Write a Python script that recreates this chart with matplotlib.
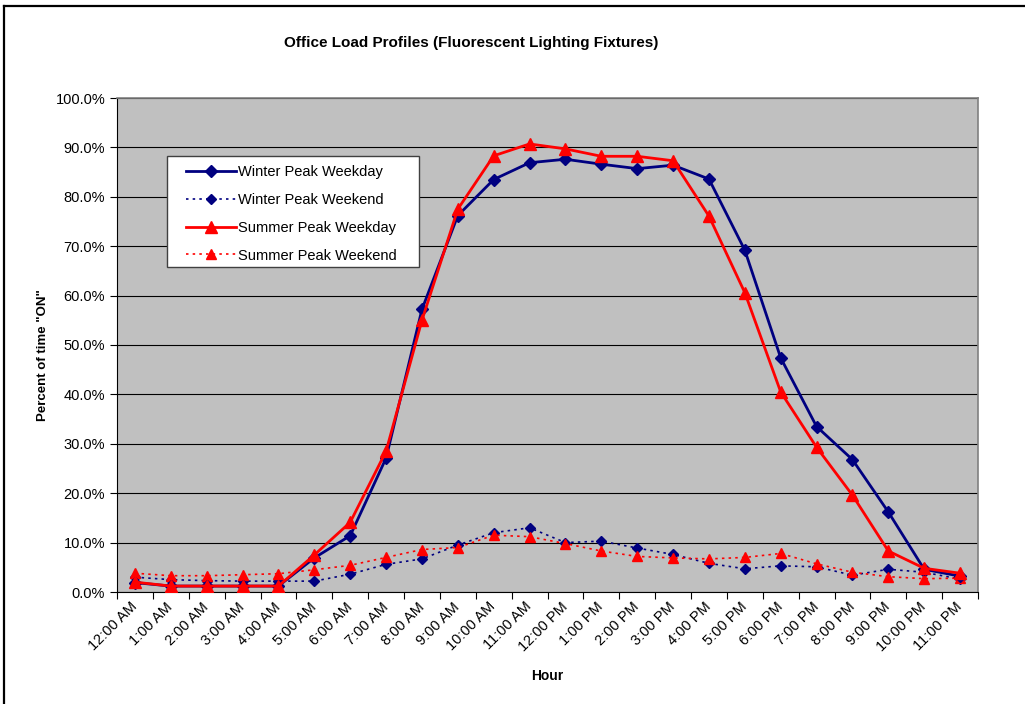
import numpy as np
import matplotlib
matplotlib.use("Agg")
import matplotlib.pyplot as plt
from matplotlib.lines import Line2D
from matplotlib.patches import Rectangle

plt.rcParams['font.family'] = ['Liberation Sans', 'DejaVu Sans']

hours = ["12:00 AM", "1:00 AM", "2:00 AM", "3:00 AM", "4:00 AM", "5:00 AM",
         "6:00 AM", "7:00 AM", "8:00 AM", "9:00 AM", "10:00 AM", "11:00 AM",
         "12:00 PM", "1:00 PM", "2:00 PM", "3:00 PM", "4:00 PM", "5:00 PM",
         "6:00 PM", "7:00 PM", "8:00 PM", "9:00 PM", "10:00 PM", "11:00 PM"]

# percent of time ON
winter_weekday = [1.9, 1.2, 1.2, 1.2, 1.2, 6.9, 11.4, 27.1, 57.2, 76.2, 83.5, 86.9,
                  87.6, 86.6, 85.7, 86.4, 83.6, 69.2, 47.4, 33.5, 26.8, 16.2, 4.6, 3.2]
winter_weekend = [3.0, 2.5, 2.3, 2.2, 2.2, 2.2, 3.6, 5.6, 6.7, 9.5, 12.0, 13.0,
                  10.0, 10.3, 8.9, 7.6, 5.8, 4.7, 5.3, 5.1, 3.4, 4.6, 4.0, 2.6]
summer_weekday = [2.0, 1.2, 1.2, 1.2, 1.2, 7.5, 14.1, 28.5, 55.0, 77.5, 88.3, 90.7,
                  89.7, 88.2, 88.2, 87.3, 76.1, 60.6, 40.5, 29.3, 19.6, 8.3, 4.8, 3.8]
summer_weekend = [3.8, 3.3, 3.3, 3.5, 3.7, 4.5, 5.4, 7.0, 8.6, 9.0, 11.5, 11.2,
                  9.8, 8.3, 7.2, 6.9, 6.7, 7.0, 7.8, 5.7, 4.0, 3.1, 2.7, 2.8]

navy = "#000080"
red = "#FF0000"

W, H = 1025, 704
fig = plt.figure(figsize=(W/100, H/100), dpi=100)
# plot area spans x 117..978, y 98..592 px
ax = fig.add_axes([117/W, 1 - 592/H, 861/W, 494/H])
ax.set_facecolor("#C0C0C0")

x = np.arange(len(hours)) + 0.5  # points sit in the middle of each category

ax.plot(x, winter_weekday, color=navy, lw=2.0, marker="D", ms=6.5, mec=navy,
        label="Winter Peak Weekday", zorder=4)
ax.plot(x, winter_weekend, color=navy, lw=1.2, ls=(0, (1.5, 2.5)), marker="D", ms=5,
        mec=navy, label="Winter Peak Weekend", zorder=3)
ax.plot(x, summer_weekday, color=red, lw=2.0, marker="^", ms=9, mec=red,
        label="Summer Peak Weekday", zorder=5)
ax.plot(x, summer_weekend, color=red, lw=1.2, ls=(0, (1.5, 2.5)), marker="^", ms=7,
        mec=red, label="Summer Peak Weekend", zorder=3)

ax.set_xlim(0, 24)
ax.set_ylim(0, 100)
ax.set_yticks(np.arange(0, 101, 10))
ax.set_yticklabels([f"{v:.1f}%" for v in np.arange(0, 101, 10)], fontsize=10.5)
ax.yaxis.grid(True, color="black", lw=0.8)
ax.set_axisbelow(True)

# ticks at category borders, labels at category centres
ax.set_xticks(np.arange(0, 25))
ax.set_xticklabels([])
ax.set_xticks(x, minor=True)
ax.set_xticklabels(hours, minor=True, rotation=45, ha="right", va="center",
                   rotation_mode="anchor", fontsize=10.5)
ax.tick_params(axis="x", which="minor", length=0, pad=9)
ax.tick_params(axis="both", which="major", direction="out", length=5, width=0.8, color="black")

for s in ["top", "right"]:
    ax.spines[s].set_color("#808080")
    ax.spines[s].set_linewidth(1.2)
ax.spines["left"].set_color("black")
ax.spines["bottom"].set_color("black")

ax.set_xlabel("Hour", fontsize=10, fontweight="bold")
ax.xaxis.set_label_coords(0.5, (592 - 669)/494)
ax.set_ylabel('Percent of time "ON"', fontsize=9.5, fontweight="bold")
ax.yaxis.set_label_coords((49 - 117)/861, (592 - 355)/494)

fig.text(471/W, 1 - 43/H, "Office Load Profiles (Fluorescent Lighting Fixtures)",
         ha="center", va="center", fontsize=11, fontweight="bold")

# legend: white box drawn separately, entries placed inside it
def px(xp, yp):
    return ((xp - 117)/861, (592 - yp)/494)

ax.add_patch(Rectangle(px(167, 267), 252/861, 111/494, transform=ax.transAxes,
                       facecolor="white", edgecolor="#404040", lw=1.0, zorder=6))
leg = ax.legend(loc="upper left", bbox_to_anchor=px(186, 165), frameon=False,
                fontsize=10.5, handlelength=3.4, borderpad=0, borderaxespad=0,
                labelspacing=0.95, handletextpad=0.2)
leg.set_zorder(7)

# outer chart frame (cut off at right and bottom)
fig.add_artist(Line2D([4/W, 4/W], [0, 1 - 6/H], transform=fig.transFigure,
                      color="black", lw=1.6))
fig.add_artist(Line2D([4/W, 1], [1 - 6/H, 1 - 6/H], transform=fig.transFigure,
                      color="black", lw=1.6))

fig.savefig("out.png", dpi=100)
